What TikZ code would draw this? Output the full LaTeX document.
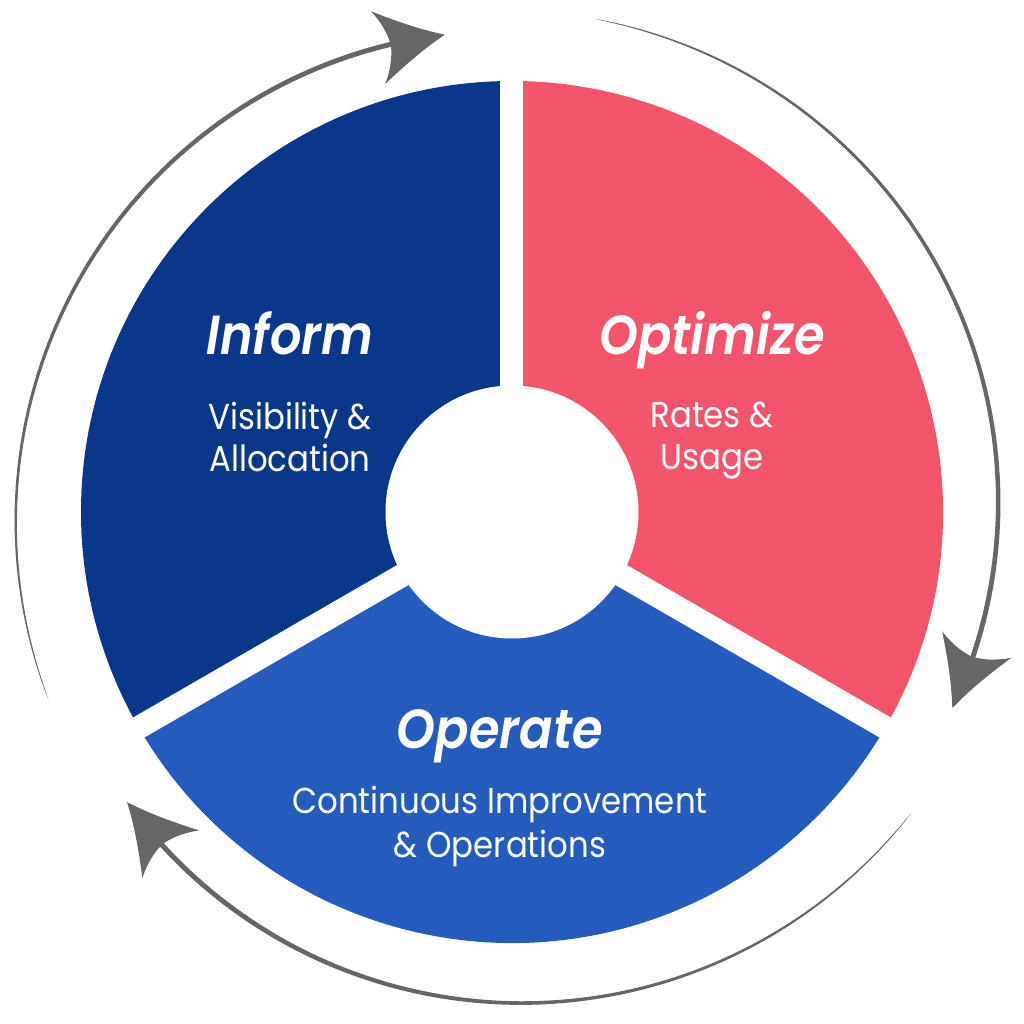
\documentclass[tikz,border=0pt]{standalone}
\usepackage{fontspec}
\setmainfont{Poppins}
\newfontfamily\phasetitlefont[FakeStretch=0.9]{Poppins SemiBold Italic}
\newfontfamily\phasesubfont[FakeStretch=0.9]{Poppins}
\definecolor{informblue}{RGB}{11,55,138}
\definecolor{operateblue}{RGB}{38,91,190}
\definecolor{optpink}{RGB}{241,84,107}
\definecolor{arrowgrey}{RGB}{102,102,102}
\newcommand\cyclearc[2]{%
  \pgfmathsetmacro\aS{#1}\pgfmathsetmacro\aE{#2}\pgfmathsetmacro\aSpan{#1-#2}%
  \fill[arrowgrey] plot[domain=0:0.97, samples=90, variable=\t]
     ({(500-18*\t+2.6*sqrt(\t))*cos(\aS-\aSpan*\t)}, {(500-18*\t+2.6*sqrt(\t))*sin(\aS-\aSpan*\t)})
     -- plot[domain=0.97:0, samples=90, variable=\t]
     ({(500-18*\t-2.6*sqrt(\t))*cos(\aS-\aSpan*\t)}, {(500-18*\t-2.6*sqrt(\t))*sin(\aS-\aSpan*\t)})
     -- cycle;
  \fill[arrowgrey, shift={(\aE:482)}, rotate=\aE-87]
     (0,0) .. controls (-24,10) and (-46,23) .. (-68,37)
     .. controls (-60,24) and (-56,12) .. (-55,0)
     .. controls (-56,-12) and (-60,-24) .. (-68,-37)
     .. controls (-46,-23) and (-24,-10) .. (0,0) -- cycle;
}
\begin{document}
\begin{tikzpicture}[x=1pt,y=1pt,
  phasetitle/.style={text=white, inner sep=0pt, font=\fontsize{55}{60}\selectfont\phasetitlefont},
  phasesub/.style={text=white, inner sep=0pt, font=\fontsize{36}{42}\selectfont\phasesubfont},
  gapline/.style={white, line width=23pt}]
\useasboundingbox (-512,-512) rectangle (512,512);
% segments
\fill[informblue] (0,0) -- (90:431) arc[start angle=90, end angle=210, radius=431] -- cycle;
\fill[optpink] (0,0) -- (-30:431) arc[start angle=-30, end angle=90, radius=431] -- cycle;
\fill[operateblue] (0,0) -- (210:431) arc[start angle=210, end angle=330, radius=431] -- cycle;
\draw[gapline] (-1,0) -- ++(90:440);
\draw[gapline] (0,0) -- (210:440);
\draw[gapline] (0,0) -- (330:440);
\fill[white] (0,0) circle (126.5);
% cycle arrows
\cyclearc{202}{98}
\cyclearc{80.5}{-24}
\cyclearc{-37}{-143}
% texts
\node[phasetitle, anchor=base] (inform) at (-222,157) {Inform};
\node[phasesub, anchor=base] (informa) at (-222,82) {Visibility \&};
\node[phasesub, anchor=base] (informb) at (-222,40) {Allocation};
\node[phasetitle, anchor=base] (optimize) at (200,157) {Optimize};
\node[phasesub, anchor=base] (optimizea) at (200,84) {Rates \&};
\node[phasesub, anchor=base] (optimizeb) at (200,42) {Usage};
\node[phasetitle, anchor=base] (operate) at (-12,-236) {Operate};
\node[phasesub, anchor=base] (operatea) at (-12,-301) {Continuous Improvement};
\node[phasesub, anchor=base] (operateb) at (-12,-345) {\& Operations};
\end{tikzpicture}
\end{document}
